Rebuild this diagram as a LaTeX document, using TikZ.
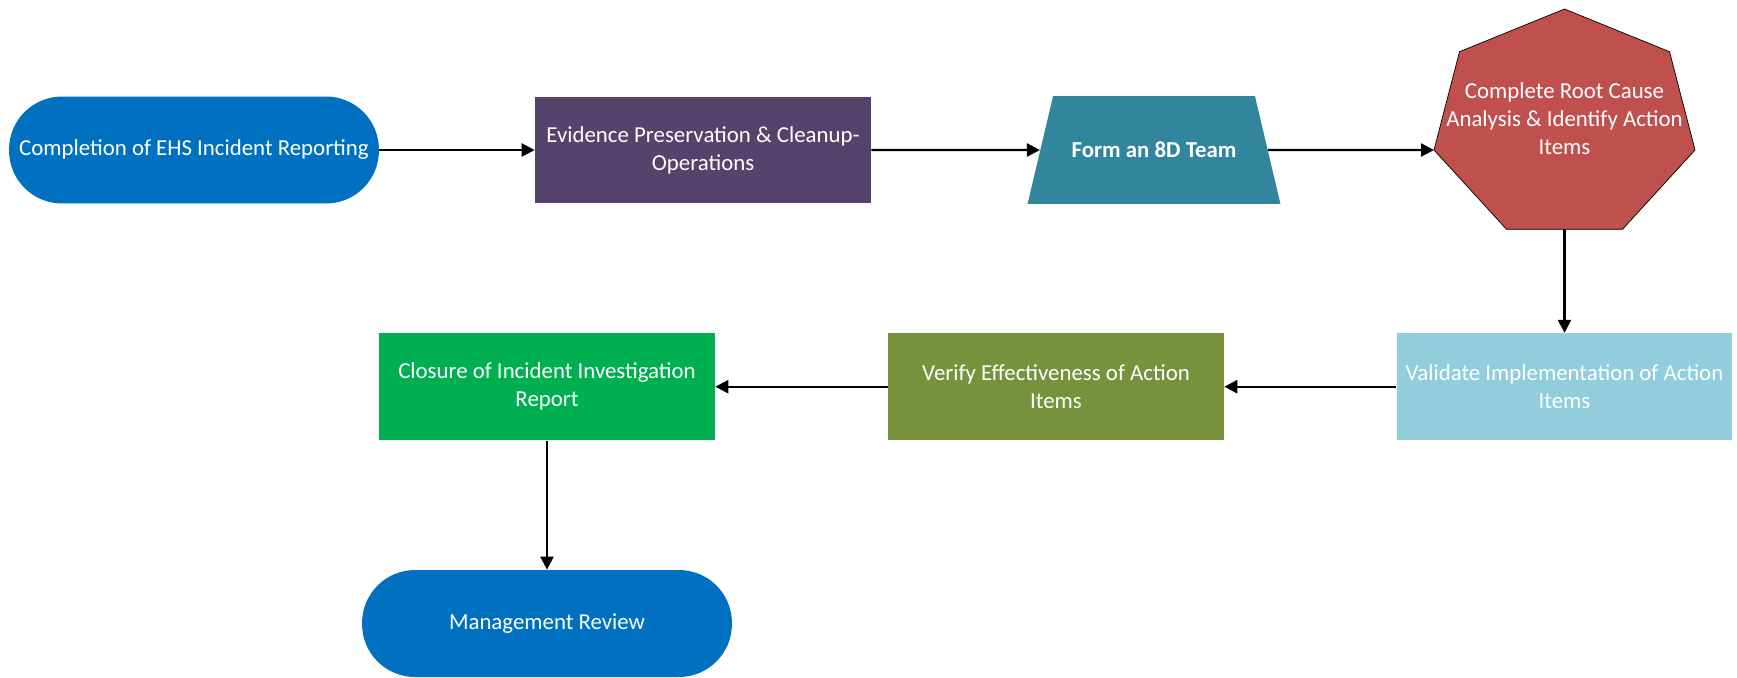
\documentclass[tikz,border=0pt]{standalone}
\usepackage{fontspec}
\setmainfont{Carlito}
\usetikzlibrary{shapes.geometric,arrows.meta}
\definecolor{ehsblue}{HTML}{0070C0}
\definecolor{evpurple}{HTML}{55436B}
\definecolor{teamteal}{HTML}{31859C}
\definecolor{rcared}{HTML}{C0504D}
\definecolor{valblue}{HTML}{92CDDC}
\definecolor{verolive}{HTML}{76923C}
\definecolor{closgreen}{HTML}{00B050}
\begin{document}
\begin{tikzpicture}[x=0.02cm, y=-0.02cm,
  every node/.style={text=white, font=\fontsize{13}{16}\selectfont, align=center, inner sep=0pt},
  termbox/.style={rectangle, rounded corners=1.06cm, fill=ehsblue, minimum width=7.4cm, minimum height=2.14cm},
  procbox/.style={rectangle, minimum width=6.72cm, minimum height=2.14cm},
  teambox/.style={trapezium, trapezium left angle=76.7, trapezium right angle=76.7,
    inner xsep=0.37cm, inner ysep=0.92cm, fill=teamteal, font=\fontsize{13}{16}\selectfont\bfseries},
  flow/.style={-{Triangle[length=0.26cm,width=0.26cm]}, line width=1.3pt, black}]
\useasboundingbox (0,0) rectangle (1737,677);

% top row
\node[termbox] (start) at (194,150) {Completion of EHS Incident Reporting};
\node[procbox, fill=evpurple] (evid) at (703,150) {Evidence Preservation \& Cleanup-\\Operations};
\node[teambox] (team) at (1154,150) {Form an 8D Team};
% root cause heptagon
\filldraw[fill=rcared, draw=black, line width=0.4pt] (1564.5,9) -- (1669.5,51.7) -- (1695,150) -- (1622.5,229.3)
  -- (1506.5,229.3) -- (1434,150) -- (1459.5,51.7) -- cycle;
\coordinate (rcaW) at (1434,150);
\coordinate (rcaS) at (1564.5,229.3);
\node (rca) at (1564.5,119) {Complete Root Cause\\Analysis \& Identify Action\\Items};

% bottom rows
\node[procbox, fill=valblue] (valid) at (1564.5,386.7) {Validate Implementation of Action\\Items};
\node[procbox, fill=verolive] (verify) at (1056,386.7) {Verify Effectiveness of Action\\Items};
\node[procbox, fill=closgreen] (closure) at (547,386.7) {Closure of Incident Investigation\\Report};
\node[termbox] (mgmt) at (547,623.5) {Management Review};

\draw[flow] (start) -- (evid);
\draw[flow] (evid) -- (team);
\draw[flow] (team) -- (rcaW);
\draw[flow] (rcaS) -- (valid);
\draw[flow] (valid) -- (verify);
\draw[flow] (verify) -- (closure);
\draw[flow] (closure) -- (mgmt);

\end{tikzpicture}
\end{document}
